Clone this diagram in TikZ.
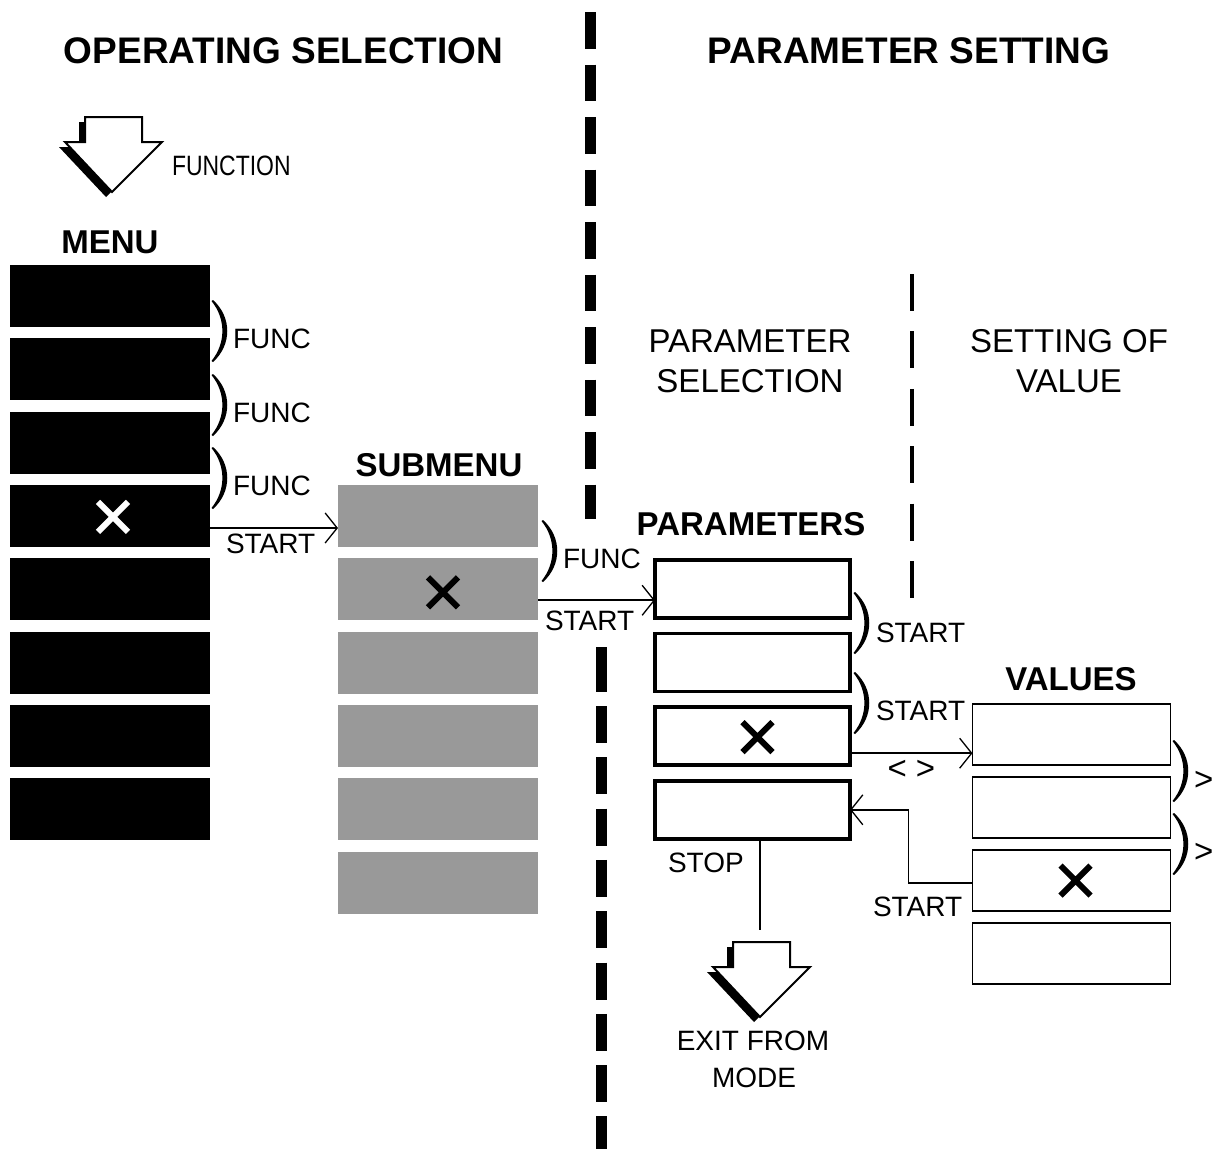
\documentclass[tikz,border=0pt]{standalone}
\usepackage{fontspec}
\setmainfont{Liberation Sans}
\usetikzlibrary{arrows.meta,calc}
\definecolor{subgray}{HTML}{999999}
\newcommand\mybrk[2]{\fill (#1,#2-31) .. controls (#1+19,#2-14) and (#1+19,#2+14) .. (#1,#2+31) -- (#1-1.5,#2+30) .. controls (#1+13,#2+12) and (#1+13,#2-12) .. (#1-1.5,#2-30) -- cycle;}
\newcommand\myxmark[2]{\draw[xm,#2] ([shift={(-15,-15)}]#1) -- ([shift={(15,15)}]#1) ([shift={(-15,15)}]#1) -- ([shift={(15,-15)}]#1);}
\newcommand\myblockarrow[2]{%
  \begin{scope}[shift={(#1,#2)}]
    \fill[black,shift={(-6,5)}] (-28.5,0) -- (28.5,0) -- (28.5,25) -- (48.5,25) -- (-1.5,75) -- (-48.5,25) -- (-28.5,25) -- cycle;
    \draw[fill=white,line width=2pt,line join=miter] (-28.5,0) -- (28.5,0) -- (28.5,25) -- (48.5,25) -- (-1.5,75) -- (-48.5,25) -- (-28.5,25) -- cycle;
  \end{scope}}
\begin{document}
\begin{tikzpicture}[x=1pt,y=-1pt,
  every node/.style={inner sep=0pt,outer sep=0pt},
  ttl/.style={font=\bfseries\fontsize{37}{40}\selectfont,anchor=base},
  hdr/.style={font=\bfseries\fontsize{33}{36}\selectfont,anchor=base},
  sec/.style={font=\fontsize{33}{36}\selectfont,anchor=base},
  lbl/.style={font=\fontsize{28}{30}\selectfont,anchor=base west},
  sym/.style={font=\fontsize{33}{36}\selectfont},
  menubox/.style={fill=black,minimum width=200pt,minimum height=62pt,anchor=north west},
  subbox/.style={fill=subgray,minimum width=200pt,minimum height=62pt,anchor=north west},
  parbox/.style={draw,line width=3.5pt,fill=white,minimum width=195pt,minimum height=58pt,anchor=north west},
  valbox/.style={draw,line width=1.2pt,fill=white,minimum width=198pt,minimum height=61pt,anchor=north west},
  arr/.style={line width=1.8pt,-{Straight Barb[length=12pt,width=30pt,line width=1.3pt]}},
  xm/.style={line width=6pt},
]
\useasboundingbox (0,0) rectangle (1219,1149);
\fill[white] (0,0) rectangle (1219,1149);

% divider lines
\draw[line width=11pt,dash pattern=on 36.5pt off 16pt] (590.5,12) -- (590.5,519);
\fill (596,647) rectangle (607,692);
\draw[line width=11pt,dash pattern=on 37pt off 14.3pt] (601.5,706) -- (601.5,1149);
\draw[line width=4pt,dash pattern=on 37pt off 20.4pt] (912,274) -- (912,600);

% titles
\node[ttl] (t1) at (283.5,63) {OPERATING SELECTION};
\node[ttl] (t2) at (909,63) {PARAMETER SETTING};

% function arrow
\myblockarrow{113.5}{117}
\node[lbl] (fn) at (172,175) {\scalebox{0.82}[1]{FUNCTION}};

% headers
\node[hdr] (hm) at (110,253) {MENU};
\node[hdr] (hs) at (439,476) {SUBMENU};
\node[hdr] (hp) at (751,535) {PARAMETERS};
\node[hdr] (hv) at (1071,690) {VALUES};
\node[sec] (ps1) at (750,352) {PARAMETER};
\node[sec] (ps2) at (750,392) {SELECTION};
\node[sec] (sv1) at (1069,352) {SETTING OF};
\node[sec] (sv2) at (1069,392) {VALUE};

% boxes
\foreach \i in {1,...,8} \node[menubox] (m\i) at (10,{265+73.3*(\i-1)}) {};
\foreach \i in {1,...,6} \node[subbox] (s\i) at (338,{485+73.3*(\i-1)}) {};
\foreach \i in {1,...,4} \node[parbox] (p\i) at (655,{560+73.6*(\i-1)}) {};
\foreach \i in {1,...,4} \node[valbox] (v\i) at (972.5,{704+73*(\i-1)}) {};

% crosses
\myxmark{$(m4.center)+(3,1)$}{white}
\myxmark{$(s2.center)+(5,3)$}{black}
\myxmark{$(p3.center)+(5,1)$}{black}
\myxmark{$(v3.center)+(4,0)$}{black}

% brackets
\mybrk{213}{331}
\mybrk{213}{405}
\mybrk{213}{478}
\mybrk{543}{551}
\mybrk{855}{623}
\mybrk{855}{703}
\mybrk{1174}{771}
\mybrk{1174}{844}

% labels
\node[lbl] (f1) at (233,348) {FUNC};
\node[lbl] (f2) at (233,422) {FUNC};
\node[lbl] (f3) at (233,495) {FUNC};
\node[lbl] (f4) at (563,568) {FUNC};
\node[lbl] (st1) at (226,553) {START};
\node[lbl] (st2) at (545,630) {START};
\node[lbl] (st3) at (876,642) {START};
\node[lbl] (st4) at (876,720) {START};
\node[lbl] (st5) at (873,916) {START};
\node[lbl] (stop) at (668,872) {STOP};
\node[sym] (lg) at (911.5,770) {<\hspace{9pt}>};
\node[sym,anchor=west] (g1) at (1194,781) {>};
\node[sym,anchor=west] (g2) at (1194,853) {>};

% connectors
\draw[arr] ([yshift=-12pt]m4.east) -- ([yshift=-12pt]s1.west);
\draw[arr] ([yshift=-11pt]s2.east) -- ([yshift=-11pt]s2.east -| p1.west);
\draw[arr] ([yshift=-17pt]p3.east) -- ([yshift=-17pt]p3.east -| v1.west);
\draw[arr] ([yshift=-2.5pt]v3.west) -- ++(-64,0) |- (p4.east);

% exit
\coordinate (ex) at (760,930);
\draw[line width=1.8pt] ([xshift=7.5pt]p4.south) -- (ex);
\myblockarrow{761.5}{942}
\node[lbl,anchor=base] (e1) at (753,1050) {EXIT FROM};
\node[lbl,anchor=base] (e2) at (754,1087) {MODE};
\end{tikzpicture}
\end{document}
